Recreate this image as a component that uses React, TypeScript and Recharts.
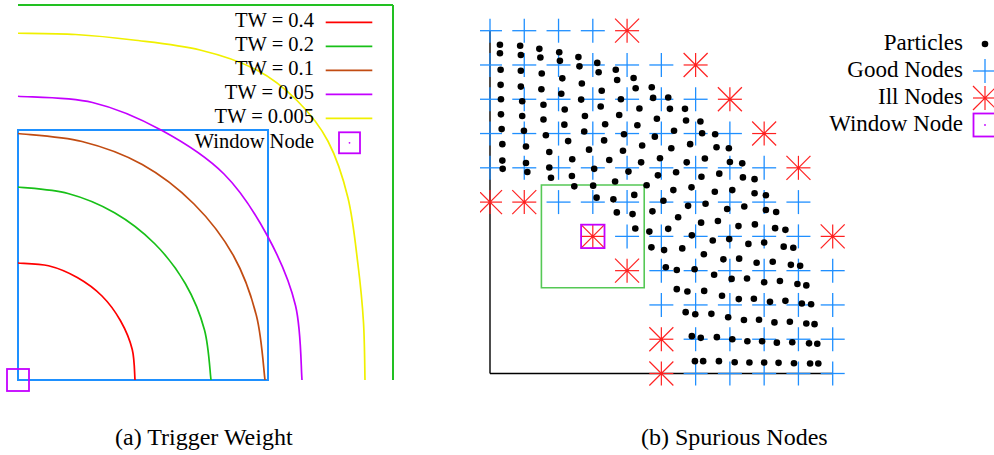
import React from 'react';
import { ComposedChart, Line, Scatter, XAxis, YAxis, ReferenceArea, ReferenceLine, Legend } from 'recharts';

// ---------- Panel (a): Trigger Weight contours (units: blue support box = 1) ----------
const twLabels = ['TW = 0.4', 'TW = 0.2', 'TW = 0.1', 'TW = 0.05', 'TW = 0.005'];
const twColors = ['#ff0000', '#18c018', '#c24c12', '#c400ff', '#f0f000'];

const tw04 = [
  { x: 0, y: 0.468 }, { x: 0.122, y: 0.457 }, { x: 0.237, y: 0.41 }, { x: 0.336, y: 0.336 },
  { x: 0.41, y: 0.237 }, { x: 0.457, y: 0.122 }, { x: 0.468, y: 0 },
];
const tw02 = [
  { x: 0, y: 0.772 }, { x: 0.2, y: 0.746 }, { x: 0.386, y: 0.669 }, { x: 0.546, y: 0.546 },
  { x: 0.669, y: 0.386 }, { x: 0.746, y: 0.2 }, { x: 0.772, y: 0 },
];
const tw01 = [
  { x: 0, y: 0.986 }, { x: 0.256, y: 0.954 }, { x: 0.497, y: 0.862 }, { x: 0.704, y: 0.704 },
  { x: 0.862, y: 0.497 }, { x: 0.954, y: 0.256 }, { x: 0.988, y: 0 },
];
const tw005 = [
  { x: 0, y: 1.135 }, { x: 0.298, y: 1.11 }, { x: 0.576, y: 0.998 }, { x: 0.824, y: 0.824 },
  { x: 0.998, y: 0.576 }, { x: 1.11, y: 0.298 }, { x: 1.136, y: 0 },
];
const tw0005 = [
  { x: 0, y: 1.387 }, { x: 0.23, y: 1.382 }, { x: 0.461, y: 1.36 }, { x: 0.728, y: 1.32 },
  { x: 0.955, y: 1.24 }, { x: 1.117, y: 1.117 }, { x: 1.24, y: 0.955 }, { x: 1.32, y: 0.728 },
  { x: 1.36, y: 0.461 }, { x: 1.382, y: 0.23 }, { x: 1.388, y: 0 },
];
const twSeries = [tw04, tw02, tw01, tw005, tw0005];
const windowNodeA = [{ x: 0, y: 0 }];

// ---------- Panel (b): Spurious Nodes (units: node spacing = 1) ----------
const goodNodes = [
  [0, 10], [1, 10], [2, 10], [3, 10],
  [0, 9], [1, 9], [2, 9], [3, 9], [4, 9], [5, 9],
  [0, 8], [1, 8], [2, 8], [3, 8], [4, 8], [5, 8], [6, 8],
  [0, 7], [1, 7], [2, 7], [3, 7], [4, 7], [5, 7], [6, 7], [7, 7],
  [0, 6], [1, 6], [2, 6], [3, 6], [4, 6], [5, 6], [6, 6], [7, 6], [8, 6],
  [2, 5], [3, 5], [4, 5], [5, 5], [6, 5], [7, 5], [8, 5], [9, 5],
  [4, 4], [5, 4], [6, 4], [7, 4], [8, 4], [9, 4],
  [5, 3], [6, 3], [7, 3], [8, 3], [9, 3], [10, 3],
  [5, 2], [6, 2], [7, 2], [8, 2], [9, 2], [10, 2],
  [6, 1], [7, 1], [8, 1], [9, 1], [10, 1],
  [6, 0], [7, 0], [8, 0], [9, 0], [10, 0],
].map(([x, y]) => ({ x, y }));

const illNodes = [
  [4, 10], [6, 9], [7, 8], [8, 7], [9, 6], [0, 5], [1, 5], [3, 4], [10, 4], [4, 3], [5, 1], [5, 0],
].map(([x, y]) => ({ x, y }));

const windowNodeB = [{ x: 3, y: 4 }];
const windowRegion = { x1: 1.5, x2: 4.5, y1: 2.5, y2: 5.5 };

const particles = [
  [0.29, 9.59], [0.29, 9.34], [0.31, 8.86], [0.31, 8.42], [0.32, 8.0], [0.32, 7.56], [0.34, 7.13], [0.36, 6.69], [0.36, 6.21], [0.37, 5.97],
  [0.88, 9.56], [0.9, 9.29], [0.9, 8.83], [0.9, 8.37], [0.94, 7.94], [0.94, 7.51], [0.99, 7.08], [1.05, 6.62], [1.05, 6.14], [1.09, 5.88],
  [1.44, 9.47], [1.47, 9.22], [1.51, 8.75], [1.5, 8.29], [1.56, 7.84], [1.56, 7.41], [1.63, 6.95], [1.73, 6.46], [1.73, 6.01], [1.78, 5.71],
  [2.02, 9.37], [2.04, 9.12], [2.11, 8.61], [2.08, 8.16], [2.18, 7.7], [2.17, 7.26], [2.28, 6.78], [2.4, 6.25], [2.39, 5.76], [2.46, 5.46],
  [2.58, 9.23], [2.61, 8.96], [2.68, 8.46], [2.66, 7.99], [2.77, 7.51], [2.75, 7.06], [2.89, 6.53], [3.04, 5.97], [3.01, 5.48], [3.11, 5.13],
  [3.13, 9.06], [3.17, 8.79], [3.26, 8.25], [3.23, 7.79], [3.36, 7.27], [3.33, 6.8], [3.48, 6.23], [3.65, 5.6], [3.6, 5.08], [3.7, 4.7],
  [3.67, 8.86], [3.71, 8.56], [3.82, 8.0], [3.77, 7.54], [3.91, 6.98], [3.88, 6.5], [4.04, 5.89], [4.21, 5.21], [4.16, 4.65], [4.24, 4.23],
  [4.19, 8.62], [4.25, 8.32], [4.36, 7.73], [4.3, 7.24], [4.44, 6.65], [4.41, 6.16], [4.57, 5.49], [4.74, 4.73], [4.65, 4.14], [4.71, 3.68],
  [4.72, 8.35], [4.76, 8.04], [4.87, 7.43], [4.81, 6.91], [4.96, 6.28], [4.9, 5.78], [5.06, 5.04], [5.2, 4.22], [5.08, 3.6], [5.13, 3.1],
  [5.2, 8.05], [5.25, 7.72], [5.37, 7.08], [5.29, 6.57], [5.43, 5.87], [5.35, 5.35], [5.49, 4.56], [5.61, 3.65], [5.45, 3.02], [5.45, 2.46],
  [5.69, 7.72], [5.72, 7.38], [5.84, 6.69], [5.74, 6.16], [5.88, 5.43], [5.78, 4.89], [6.16, 4.4], [5.89, 4.03], [6.24, 3.48], [5.97, 3.04],
  [5.76, 2.39], [5.71, 1.79], [5.89, 1.09], [5.98, 0.36],
  [6.14, 7.35], [6.19, 7.01], [6.27, 6.27], [6.17, 5.74], [6.29, 4.95], [6.5, 3.88], [6.54, 2.88], [6.25, 2.41], [5.99, 1.73], [6.15, 1.04], [6.22, 0.36],
  [6.57, 6.98], [6.61, 6.6], [6.69, 5.83], [6.56, 5.3], [6.65, 4.45], [6.81, 3.33], [6.77, 2.27], [6.46, 1.74], [6.62, 1.06], [6.68, 0.36],
  [6.97, 6.57], [7.0, 6.17], [7.07, 5.35], [6.92, 4.8], [7.25, 4.3], [6.98, 3.92], [7.27, 3.35], [7.05, 2.76], [7.26, 2.17], [6.95, 1.64], [7.07, 1.0], [7.14, 0.33],
  [7.36, 6.13], [7.38, 5.72], [7.72, 5.67], [7.72, 5.26], [8.05, 5.2], [7.42, 4.87], [8.05, 4.77], [8.35, 4.71],
  [7.73, 4.35], [8.32, 4.24], [8.62, 4.19], [7.54, 3.78], [8.0, 3.82], [8.57, 3.7], [8.85, 3.67],
  [7.78, 3.23], [8.25, 3.26], [8.78, 3.17], [9.05, 3.14],
  [7.5, 2.77], [8.0, 2.66], [8.46, 2.7], [8.97, 2.61], [9.23, 2.57],
  [7.7, 2.18], [8.17, 2.09], [8.62, 2.12], [9.1, 2.04], [9.37, 2.02],
  [7.41, 1.56], [7.85, 1.57], [8.3, 1.49], [8.75, 1.51], [9.23, 1.46], [9.47, 1.44],
  [7.51, 0.94], [7.94, 0.94], [8.37, 0.9], [8.82, 0.91], [9.31, 0.88], [9.55, 0.87],
  [7.57, 0.32], [8.0, 0.32], [8.42, 0.31], [8.87, 0.3], [9.34, 0.29], [9.58, 0.29],
].map(([x, y]) => ({ x, y }));

const legendBLabels = ['Particles', 'Good Nodes', 'Ill Nodes', 'Window Node'];
const captions = ['(a) Trigger Weight', '(b) Spurious Nodes'];

// ---------- styles ----------
const SERIF = '"Liberation Serif", "Times New Roman", serif';
const NODE_BLUE = '#1f8fff';
const ILL_RED = '#ff2020';
const WIN_PURPLE = '#c400ff';
const FRAME_GREEN = '#22c022';
const REGION_GREEN = '#55c855';

// Catmull-Rom style smooth curve factory (handles curves that turn vertical)
const smoothCurve: any = (context: any) => {
  let pts: number[][] = [];
  return {
    areaStart() {},
    areaEnd() {},
    lineStart() { pts = []; },
    point(x: number, y: number) { pts.push([+x, +y]); },
    lineEnd() {
      const n = pts.length;
      if (!n) return;
      context.moveTo(pts[0][0], pts[0][1]);
      for (let i = 0; i < n - 1; i++) {
        const p0 = pts[Math.max(0, i - 1)];
        const p1 = pts[i];
        const p2 = pts[i + 1];
        const p3 = pts[Math.min(n - 1, i + 2)];
        context.bezierCurveTo(
          p1[0] + (p2[0] - p0[0]) / 6, p1[1] + (p2[1] - p0[1]) / 6,
          p2[0] - (p3[0] - p1[0]) / 6, p2[1] - (p3[1] - p1[1]) / 6,
          p2[0], p2[1],
        );
      }
    },
  };
};

const PlusMark = ({ cx, cy }: any) => (
  <g stroke={NODE_BLUE} strokeWidth={1.3}>
    <line x1={cx - 12} y1={cy} x2={cx + 12} y2={cy} />
    <line x1={cx} y1={cy - 12} x2={cx} y2={cy + 12} />
  </g>
);

const StarMark = ({ cx, cy }: any) => (
  <g stroke={ILL_RED} strokeWidth={1.2}>
    <line x1={cx - 12} y1={cy} x2={cx + 12} y2={cy} />
    <line x1={cx} y1={cy - 12} x2={cx} y2={cy + 12} />
    <line x1={cx - 12} y1={cy - 12} x2={cx + 12} y2={cy + 12} />
    <line x1={cx - 12} y1={cy + 12} x2={cx + 12} y2={cy - 12} />
    <circle cx={cx} cy={cy} r={1.6} fill={ILL_RED} stroke="none" />
  </g>
);

const DotMark = ({ cx, cy }: any) => <circle cx={cx} cy={cy} r={3.3} fill="#000" />;

const SquareMark = ({ cx, cy, half = 11.5, dot = false }: any) => (
  <g>
    <rect x={cx - half} y={cy - half} width={half * 2} height={half * 2} fill="none" stroke={WIN_PURPLE} strokeWidth={1.8} />
    {dot ? <circle cx={cx} cy={cy} r={0.9} fill={WIN_PURPLE} /> : null}
  </g>
);

const LegendA = () => {
  const rows = [22.3, 46.3, 70.3, 94.3, 118.3];
  return (
    <svg width={400} height={170} style={{ overflow: 'visible' }}>
      {twLabels.map((lab, i) => (
        <g key={lab}>
          <text x={314} y={rows[i] + 5} textAnchor="end" fontFamily={SERIF} fontSize={20.5} fill="#000">{lab}</text>
          <line x1={325.7} y1={rows[i]} x2={372.3} y2={rows[i]} stroke={twColors[i]} strokeWidth={1.8} />
        </g>
      ))}
      <text x={314} y={142.8 + 5} textAnchor="end" fontFamily={SERIF} fontSize={20.5} fill="#000">Window Node</text>
      <SquareMark cx={349.5} cy={142.8} half={10.5} dot />
    </svg>
  );
};

const LegendB = () => {
  const rows = [44, 71, 98, 125];
  const mx = 505;
  return (
    <svg width={514} height={160} style={{ overflow: 'hidden' }}>
      {legendBLabels.map((lab, i) => (
        <text key={lab} x={483} y={rows[i] + 6} textAnchor="end" fontFamily={SERIF} fontSize={23} fill="#000">{lab}</text>
      ))}
      <DotMark cx={mx} cy={rows[0]} />
      <PlusMark cx={mx} cy={rows[1]} />
      <StarMark cx={mx} cy={rows[2]} />
      <SquareMark cx={mx} cy={rows[3]} dot />
    </svg>
  );
};

export default function App() {
  return (
    <div style={{ position: 'absolute', left: 0, top: 0, width: 994, height: 455, background: '#fff', overflow: 'hidden' }}>
      <div style={{ position: 'absolute', left: 0, top: 0 }}>
        <ComposedChart width={400} height={400} margin={{ top: 5, left: 18, right: 7, bottom: 20 }}>
          <XAxis type="number" dataKey="x" domain={[0, 1.5]} hide />
          <YAxis type="number" dataKey="y" domain={[0, 1.5]} hide width={0} />
          <ReferenceLine y={1.5} stroke={FRAME_GREEN} strokeWidth={2} />
          <ReferenceLine x={1.5} stroke={FRAME_GREEN} strokeWidth={2} />
          <ReferenceArea x1={0} x2={1} y1={0} y2={1} fill="none" fillOpacity={0} stroke="#1e90ff" strokeWidth={2} strokeOpacity={1} />
          {twSeries.map((d, i) => (
            <Line key={twLabels[i]} name={twLabels[i]} data={d} dataKey="y" type={smoothCurve} stroke={twColors[i]}
              strokeWidth={1.7} dot={false} activeDot={false} isAnimationActive={false} />
          ))}
          <Scatter name="Window Node" data={windowNodeA} dataKey="y" shape={(p: any) => <SquareMark cx={p.cx} cy={p.cy} half={11} />} isAnimationActive={false} />
          <Legend layout="horizontal" verticalAlign="middle" align="center" content={() => <LegendA />}
            wrapperStyle={{ left: 0, top: 0, width: 400, height: 170 }} />
        </ComposedChart>
      </div>

      <div style={{ position: 'absolute', left: 480, top: 0 }}>
        <ComposedChart width={514} height={400} margin={{ top: 30.7, left: 10, right: 161.3, bottom: 26.5 }}>
          <XAxis type="number" dataKey="x" domain={[0, 10]} hide />
          <YAxis type="number" dataKey="y" domain={[0, 10]} hide width={0} />
          <ReferenceLine x={0} stroke="#000" strokeWidth={1.4} />
          <ReferenceLine y={0} stroke="#000" strokeWidth={1.4} />
          <ReferenceArea x1={windowRegion.x1} x2={windowRegion.x2} y1={windowRegion.y1} y2={windowRegion.y2}
            fill="none" fillOpacity={0} stroke={REGION_GREEN} strokeWidth={1.6} strokeOpacity={1} />
          <Scatter name="Good Nodes" data={goodNodes} dataKey="y" shape={(p: any) => <PlusMark cx={p.cx} cy={p.cy} />} isAnimationActive={false} />
          <Scatter name="Ill Nodes" data={illNodes} dataKey="y" shape={(p: any) => <StarMark cx={p.cx} cy={p.cy} />} isAnimationActive={false} />
          <Scatter name="Window Node" data={windowNodeB} dataKey="y" shape={(p: any) => <SquareMark cx={p.cx} cy={p.cy} half={11.7} />} isAnimationActive={false} />
          <Scatter name="Particles" data={particles} dataKey="y" shape={(p: any) => <DotMark cx={p.cx} cy={p.cy} />} isAnimationActive={false} />
          <Legend layout="horizontal" verticalAlign="middle" align="center" content={() => <LegendB />}
            wrapperStyle={{ left: 0, top: 0, width: 514, height: 160 }} />
        </ComposedChart>
      </div>

      <svg width={994} height={455} style={{ position: 'absolute', left: 0, top: 0, pointerEvents: 'none' }}>
        <text x={115} y={445} fontFamily={SERIF} fontSize={24} fill="#000">{captions[0]}</text>
        <text x={641} y={445} fontFamily={SERIF} fontSize={24} fill="#000">{captions[1]}</text>
      </svg>
    </div>
  );
}
